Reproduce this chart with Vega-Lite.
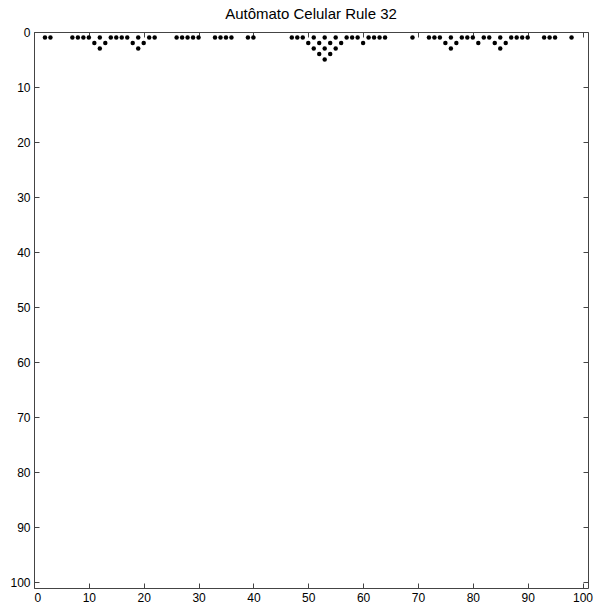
{
  "$schema": "https://vega.github.io/schema/vega-lite/v6.json",
  "autosize": {"type": "none"},
  "padding": {"left": 34, "top": 32, "right": 6, "bottom": 21},
  "width": 554,
  "height": 556,
  "background": "white",
  "title": {"text": "Autômato Celular Rule 32", "fontSize": 15, "font": "Liberation Sans", "fontWeight": "normal", "color": "black", "anchor": "middle", "baseline": "bottom", "offset": -11},
  "config": {
    "view": {"stroke": "#444", "strokeWidth": 1},
    "axis": {"labelFont": "Liberation Sans", "labelFontSize": 12, "labelColor": "black", "tickColor": "#444", "domainColor": "#444", "grid": false, "tickSize": -5, "title": null, "labelPadding": 9}
  },
  "data": {"values": [
    {"x": 2, "row": 1}, {"x": 3, "row": 1}, {"x": 7, "row": 1}, {"x": 8, "row": 1}, {"x": 9, "row": 1}, {"x": 10, "row": 1},
    {"x": 12, "row": 1}, {"x": 14, "row": 1}, {"x": 15, "row": 1}, {"x": 16, "row": 1}, {"x": 17, "row": 1}, {"x": 19, "row": 1},
    {"x": 21, "row": 1}, {"x": 22, "row": 1}, {"x": 26, "row": 1}, {"x": 27, "row": 1}, {"x": 28, "row": 1}, {"x": 29, "row": 1},
    {"x": 30, "row": 1}, {"x": 33, "row": 1}, {"x": 34, "row": 1}, {"x": 35, "row": 1}, {"x": 36, "row": 1}, {"x": 39, "row": 1},
    {"x": 40, "row": 1}, {"x": 47, "row": 1}, {"x": 48, "row": 1}, {"x": 49, "row": 1}, {"x": 51, "row": 1}, {"x": 53, "row": 1},
    {"x": 55, "row": 1}, {"x": 57, "row": 1}, {"x": 58, "row": 1}, {"x": 59, "row": 1}, {"x": 61, "row": 1}, {"x": 62, "row": 1},
    {"x": 63, "row": 1}, {"x": 64, "row": 1}, {"x": 69, "row": 1}, {"x": 72, "row": 1}, {"x": 73, "row": 1}, {"x": 74, "row": 1},
    {"x": 76, "row": 1}, {"x": 78, "row": 1}, {"x": 79, "row": 1}, {"x": 80, "row": 1}, {"x": 82, "row": 1}, {"x": 83, "row": 1},
    {"x": 85, "row": 1}, {"x": 87, "row": 1}, {"x": 88, "row": 1}, {"x": 89, "row": 1}, {"x": 90, "row": 1}, {"x": 93, "row": 1},
    {"x": 94, "row": 1}, {"x": 95, "row": 1}, {"x": 98, "row": 1},
    {"x": 11, "row": 2}, {"x": 13, "row": 2}, {"x": 18, "row": 2}, {"x": 20, "row": 2}, {"x": 50, "row": 2}, {"x": 52, "row": 2},
    {"x": 54, "row": 2}, {"x": 56, "row": 2}, {"x": 60, "row": 2}, {"x": 75, "row": 2}, {"x": 77, "row": 2}, {"x": 81, "row": 2},
    {"x": 84, "row": 2}, {"x": 86, "row": 2},
    {"x": 12, "row": 3}, {"x": 19, "row": 3}, {"x": 51, "row": 3}, {"x": 53, "row": 3}, {"x": 55, "row": 3}, {"x": 76, "row": 3},
    {"x": 85, "row": 3},
    {"x": 52, "row": 4}, {"x": 54, "row": 4},
    {"x": 53, "row": 5}
  ]},
  "layer": [
    {
      "mark": {"type": "point", "filled": true, "color": "black", "size": 20, "opacity": 1},
      "encoding": {
        "x": {"field": "x", "type": "quantitative", "scale": {"domain": [0, 101], "nice": false, "zero": false}, "axis": {"orient": "bottom", "values": [0,10,20,30,40,50,60,70,80,90,100], "domain": false}},
        "y": {"field": "row", "type": "quantitative", "scale": {"domain": [0, 101], "nice": false, "zero": false, "reverse": true}, "axis": {"orient": "left", "values": [0,10,20,30,40,50,60,70,80,90,100], "domain": false}}
      }
    },
    {
      "mark": {"type": "point", "opacity": 0},
      "encoding": {
        "x": {"field": "x", "type": "quantitative", "scale": {"domain": [0, 101], "nice": false, "zero": false}, "axis": {"orient": "top", "values": [0,10,20,30,40,50,60,70,80,90,100], "labels": false, "domain": false}},
        "y": {"field": "row", "type": "quantitative", "scale": {"domain": [0, 101], "nice": false, "zero": false, "reverse": true}, "axis": {"orient": "right", "values": [0,10,20,30,40,50,60,70,80,90,100], "labels": false, "domain": false}}
      }
    }
  ],
  "resolve": {"axis": {"x": "independent", "y": "independent"}}
}
